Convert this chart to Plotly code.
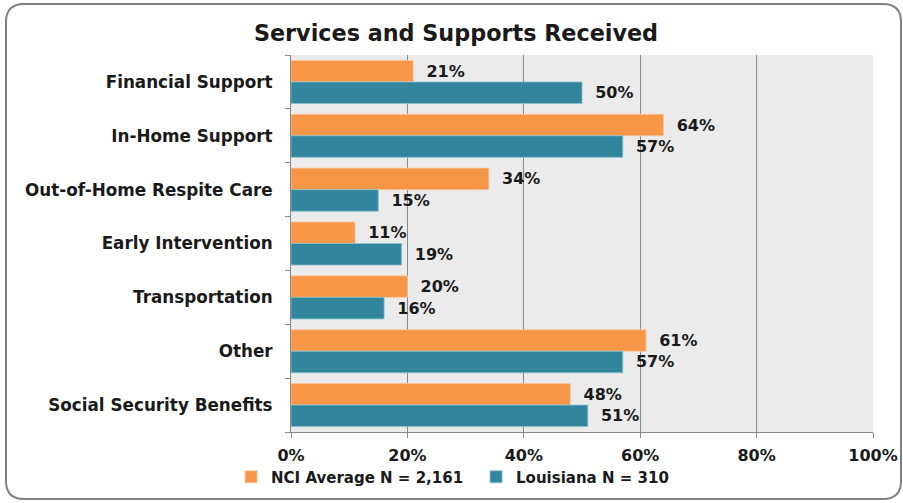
import plotly.graph_objects as go

categories = ["Financial Support", "In-Home Support", "Out-of-Home Respite Care",
              "Early Intervention", "Transportation", "Other", "Social Security Benefits"]
nci_values = [21, 64, 34, 11, 20, 61, 48]
louisiana_values = [50, 57, 15, 19, 16, 57, 51]
series_names = ["NCI Average N = 2,161", "Louisiana N = 310"]
x_tick_values = [0, 20, 40, 60, 80, 100]
x_tick_labels = ["0%", "20%", "40%", "60%", "80%", "100%"]

FONT = "DejaVu Sans"
W, H = 903, 503
L, R, T, B = 291, 873, 55, 432

fig = go.Figure()
fig.add_trace(go.Bar(
    y=categories, x=nci_values, orientation="h", name=f"<b>{series_names[0]}</b>",
    marker=dict(color="#F79646", line=dict(color="#FBC9A0", width=0.8)),
    text=[f"{v}%" for v in nci_values], texttemplate="  <b>%{text}</b>",
    textposition="outside", cliponaxis=False,
    textfont=dict(family=FONT, size=16, color="#1a1a1a"),
))
fig.add_trace(go.Bar(
    y=categories, x=louisiana_values, orientation="h", name=f"<b>{series_names[1]}</b>",
    marker=dict(color="#31859C", line=dict(color="#8CC2D0", width=0.8)),
    text=[f"{v}%" for v in louisiana_values], texttemplate="  <b>%{text}</b>",
    textposition="outside", cliponaxis=False,
    textfont=dict(family=FONT, size=16, color="#1a1a1a"),
))

def px2x(px):
    return (px - L) / (R - L)

def px2y(py):
    return (B - py) / (B - T)

x0, x1, y0, y1, r = 6, 901, 4, 499, 18
path = (
    f"M {px2x(x0 + r)} {px2y(y0)} L {px2x(x1 - r)} {px2y(y0)} "
    f"Q {px2x(x1)} {px2y(y0)} {px2x(x1)} {px2y(y0 + r)} "
    f"L {px2x(x1)} {px2y(y1 - r)} Q {px2x(x1)} {px2y(y1)} {px2x(x1 - r)} {px2y(y1)} "
    f"L {px2x(x0 + r)} {px2y(y1)} Q {px2x(x0)} {px2y(y1)} {px2x(x0)} {px2y(y1 - r)} "
    f"L {px2x(x0)} {px2y(y0 + r)} Q {px2x(x0)} {px2y(y0)} {px2x(x0 + r)} {px2y(y0)} Z"
)
fig.add_shape(type="path", path=path, xref="paper", yref="paper",
              line=dict(color="#808080", width=2), fillcolor="rgba(0,0,0,0)", layer="below")

fig.update_layout(
    width=W, height=H,
    margin=dict(l=L, r=W - R, t=T, b=H - B, autoexpand=False),
    paper_bgcolor="white", plot_bgcolor="#EBEBEB",
    barmode="group", bargap=0.2, bargroupgap=0.0,
    font=dict(family=FONT, color="#1a1a1a"),
    title=dict(text="<b>Services and Supports Received</b>", x=456 / W, xanchor="center",
               xref="container", y=1 - 33 / H, yref="container", yanchor="middle",
               font=dict(family=FONT, size=22.3, color="#1a1a1a")),
    xaxis=dict(range=[0, 100], tickvals=x_tick_values,
               ticktext=[f"<b>{t}</b>" for t in x_tick_labels],
               showgrid=True, gridcolor="#888888", gridwidth=1,
               ticks="outside", ticklen=5, tickcolor="#888888",
               showline=True, linecolor="#888888", linewidth=1,
               zeroline=False, ticklabelstandoff=4,
               tickfont=dict(family=FONT, size=16, color="#1a1a1a")),
    yaxis=dict(autorange="reversed", type="category", tickson="boundaries",
               tickvals=categories, ticktext=[f"<b>{c}</b>" for c in categories],
               ticks="outside", ticklen=5, tickcolor="#888888",
               showline=True, linecolor="#888888", linewidth=1,
               showgrid=False, ticklabelstandoff=14,
               tickfont=dict(family=FONT, size=16.8, color="#1a1a1a")),
    legend=dict(orientation="h", x=-0.103, xanchor="left", y=-(477 - 432) / (432 - 55),
                yanchor="middle", font=dict(family=FONT, size=15, color="#1a1a1a"),
                traceorder="normal", itemwidth=30, tracegroupgap=0,
                entrywidth=200, entrywidthmode="pixels",
                bgcolor="rgba(0,0,0,0)"),
    showlegend=True,
)

fig.write_html("out.html", config={"displayModeBar": False},
               post_script="document.body.style.margin='0px';")
